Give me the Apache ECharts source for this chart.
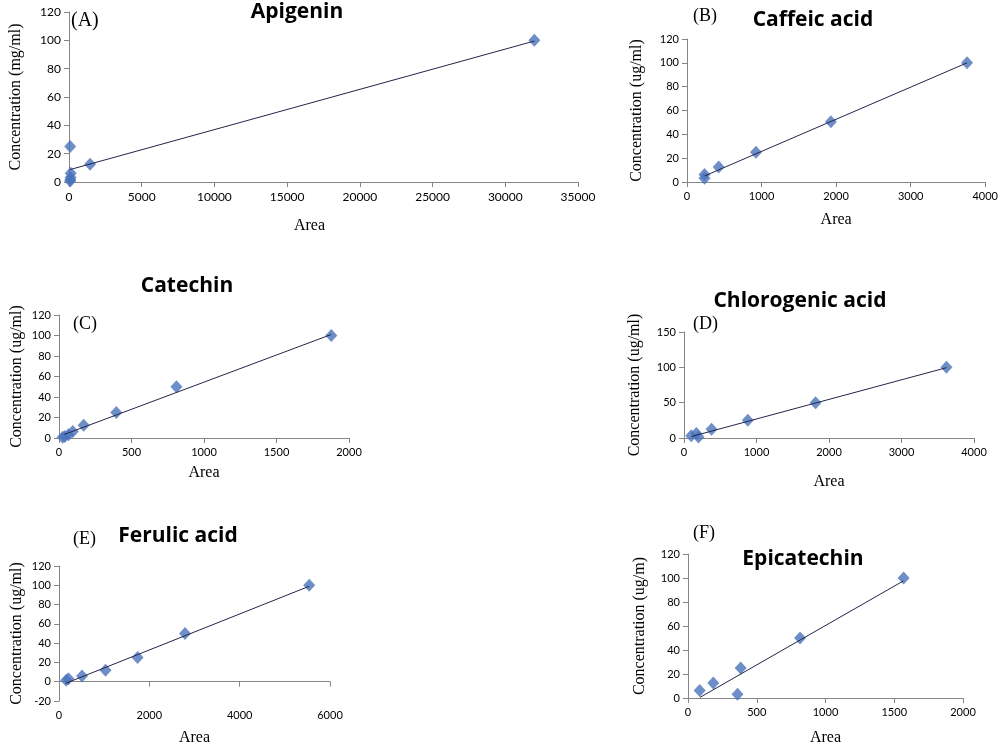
<!DOCTYPE html>
<html>
<head>
<meta charset="utf-8">
<script src="https://cdn.jsdelivr.net/npm/echarts@6/dist/echarts.min.js"></script>
<style>
  html, body { margin: 0; padding: 0; background: #fff; }
  #calib-charts { width: 1001px; height: 747px; }
</style>
</head>
<body>
<div id="calib-charts"></div>
<script>
// Calibration curves, six compounds (area vs concentration)
const panelTitles = ["Apigenin", "Caffeic acid", "Catechin", "Chlorogenic acid", "Ferulic acid", "Epicatechin"];
const panelLetters = ["(A)", "(B)", "(C)", "(D)", "(E)", "(F)"];
const yAxisNames = [
  "Concentration (mg/ml)",
  "Concentration (ug/ml)",
  "Concentration (ug/ml)",
  "Concentration (ug/ml)",
  "Concentration (ug/ml)",
  "Concentration (ug/m)",
];

// [area, concentration]
const apigeninPoints = [[32000, 100], [1450, 12.5], [80, 25], [120, 6.25], [110, 3.125], [90, 1.56], [80, 0.78]];
const caffeicPoints = [[3756, 100], [1930, 50.5], [925, 25], [425, 12.5], [235, 6.25], [235, 3.1]];
const catechinPoints = [[1878, 100], [810, 50], [395, 25], [170, 12.5], [95, 6.25], [65, 3.1], [40, 1.56], [25, 0.78]];
const chlorogenicPoints = [[3620, 100], [1815, 50], [880, 25], [380, 12.5], [170, 6.25], [100, 3.1], [200, 1.56]];
const ferulicPoints = [[5540, 100], [2790, 50], [1740, 25], [1030, 12], [510, 6], [210, 3], [160, 1.5]];
const epicatechinPoints = [[1568, 100], [815, 50], [383, 25], [184, 12.5], [85, 6.25], [360, 3.1]];

// trendline ends
const apigeninTrend = [[80, 8.8], [32000, 99.5]];
const caffeicTrend = [[240, 5.2], [3756, 100]];
const catechinTrend = [[37, 3.5], [1878, 101]];
const chlorogenicTrend = [[100, 2], [3620, 99.5]];
const ferulicTrend = [[140, -1.8], [5540, 99]];
const epicatechinTrend = [[87, 0.5], [1565, 97.5]];

const xMaxes = [35000, 4000, 2000, 4000, 6000, 2000];
const xSteps = [5000, 1000, 500, 1000, 2000, 500];
const yMins = [0, 0, 0, 0, -20, 0];
const yMaxes = [120, 120, 120, 150, 120, 120];
const ySteps = [20, 20, 20, 50, 20, 20];

const allPoints = [apigeninPoints, caffeicPoints, catechinPoints, chlorogenicPoints, ferulicPoints, epicatechinPoints];
const allTrends = [apigeninTrend, caffeicTrend, catechinTrend, chlorogenicTrend, ferulicTrend, epicatechinTrend];

// Layout of each panel (plot area in px)
const grids = [
  { left: 61, top: 12, width: 517, height: 170 },
  { left: 687, top: 39, width: 299, height: 143 },
  { left: 59, top: 315, width: 290, height: 123 },
  { left: 684, top: 332, width: 290, height: 106 },
  { left: 59, top: 566, width: 271, height: 157 },
  { left: 688, top: 554, width: 275, height: 146 },
];
const titlePos = [[297, 11], [813, 19], [187, 285], [800, 300], [178, 535], [803, 558]];
const letterPos = [[71, 11], [693, 7], [73, 315], [693, 315], [73, 530], [693, 524]];
const yNameGaps = [45, 42, 34, 41, 34, 40];
const xNameGaps = [36, 30, 27, 36, 29, 32];
const tickSizes = [12, 11, 11, 11, 11, 11];

const tickFont = "Lato, 'Open Sans', sans-serif";
const titleFont = "'Open Sans', Lato, sans-serif";
const serifFont = "'Liberation Serif', 'DejaVu Serif', serif";

const option = {
  animation: false,
  backgroundColor: "#ffffff",
  title: panelTitles.map((t, i) => ({
    text: t,
    left: titlePos[i][0],
    top: titlePos[i][1] - 9,
    textAlign: "center",
    padding: 0,
    textStyle: { fontFamily: titleFont, fontWeight: "bold", fontSize: 21, color: "#000" },
  })),
  grid: grids.map((g) => ({ ...g, containLabel: false })),
  xAxis: grids.map((g, i) => ({
    type: "value",
    gridIndex: i,
    min: 0,
    max: xMaxes[i],
    interval: xSteps[i],
    name: "Area",
    nameLocation: "middle",
    nameGap: xNameGaps[i],
    nameTextStyle: {
      fontFamily: serifFont,
      fontSize: 16,
      color: "#000",
      padding: i === 0 ? [0, 28, 0, 0] : 0,
    },
    splitLine: { show: false },
    axisLine: { onZero: true, lineStyle: { color: "#868686", width: 1 } },
    axisTick: { show: true, length: 5, lineStyle: { color: "#868686" } },
    axisLabel: {
      fontFamily: tickFont,
      fontSize: tickSizes[i],
      color: "#000",
      margin: 9,
      formatter: (v) => String(v),
    },
  })),
  yAxis: grids.map((g, i) => ({
    type: "value",
    gridIndex: i,
    min: yMins[i],
    max: yMaxes[i],
    interval: ySteps[i],
    name: yAxisNames[i],
    nameLocation: "middle",
    nameRotate: 90,
    nameGap: yNameGaps[i],
    nameTextStyle: { fontFamily: serifFont, fontSize: 16, color: "#000" },
    splitLine: { show: false },
    axisLine: { show: true, onZero: false, lineStyle: { color: "#868686", width: 1 } },
    axisTick: { show: true, length: 5, lineStyle: { color: "#868686" } },
    axisLabel: {
      fontFamily: tickFont,
      fontSize: tickSizes[i],
      color: "#000",
      margin: 8,
      formatter: (v) => String(v),
    },
  })),
  series: [
    ...allTrends.map((trend, i) => ({
      type: "line",
      name: panelTitles[i] + " trend",
      xAxisIndex: i,
      yAxisIndex: i,
      data: trend,
      showSymbol: false,
      lineStyle: { color: "#24244a", width: 1 },
      z: 3,
    })),
    ...allPoints.map((pts, i) => ({
      type: "scatter",
      name: panelTitles[i],
      xAxisIndex: i,
      yAxisIndex: i,
      data: pts,
      symbol: "diamond",
      symbolSize: [12, 13],
      itemStyle: { color: "#4A72BA" },
      z: 2,
    })),
  ],
  graphic: panelLetters.map((l, i) => ({
    type: "text",
    left: letterPos[i][0],
    top: letterPos[i][1],
    style: { text: l, font: (i === 0 ? "20px " : "18px ") + serifFont, fill: "#000" },
  })),
};

const chartDom = document.getElementById("calib-charts");
const calibChart = echarts.init(chartDom);
calibChart.setOption(option);
window.addEventListener("resize", () => calibChart.resize());
</script>
</body>
</html>
